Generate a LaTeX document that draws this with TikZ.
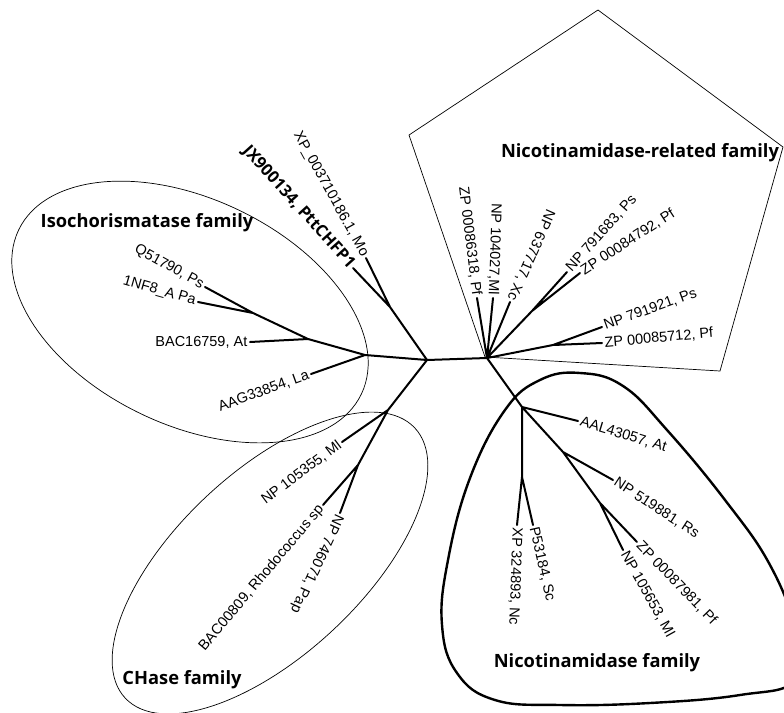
\documentclass[tikz,border=0pt]{standalone}
\usepackage{fontspec}
\setmainfont{Liberation Sans}
\newfontfamily\famfont{Open Sans}
\usetikzlibrary{shapes.geometric}

\begin{document}
\begin{tikzpicture}[x=1pt,y=-1pt,
   branch/.style={line width=2pt,line cap=round,line join=round},
   leaf/.style={font=\fontsize{14.5}{16}\selectfont,inner sep=2.5pt},
   bleaf/.style={font=\famfont\bfseries\fontsize{16.5}{18}\selectfont,inner sep=2pt},
   family/.style={font=\famfont\bfseries\fontsize{18.3}{20}\selectfont},
   outline/.style={draw,line width=0.7pt}]
   \useasboundingbox (0,0) rectangle (784,712);

   % family outlines
   \node[outline,ellipse,minimum width=380pt,minimum height=226pt,rotate=-25.6] (iso_box) at (190,312) {};
   \node[outline,ellipse,minimum width=396pt,minimum height=184pt,rotate=43] (chase_box) at (270,563) {};
   \coordinate (p1) at (598,10);
   \coordinate (p2) at (409,135);
   \coordinate (p3) at (485,357);
   \coordinate (p4) at (720,371);
   \coordinate (p5) at (783,147);
   \draw[outline] (p1) -- (p2) -- (p3) -- (p4) -- (p5) -- cycle;
   \draw[line width=2.4pt] plot[smooth cycle,tension=0.7] coordinates {
      (457,673) (442,625) (448,560) (470,478) (505,410) (540,380) (580,373)
      (623,386) (667,430) (725,500) (770,565) (795,630) (795,680) (740,695)
      (650,703) (560,705) (495,700)};

   \node[family] (iso_lbl) at (147,223) {Isochorismatase family};
   \node[family] (nrel_lbl) at (640,153) {Nicotinamidase-related family};
   \node[family] (chase_lbl) at (182,680) {CHase family};
   \node[family] (nic_lbl) at (597,663) {Nicotinamidase family};

   % inner nodes
   \coordinate (c1) at (427,360);
   \coordinate (c2) at (487,358);
   \coordinate (m1) at (390,307);
   \coordinate (i1) at (365,355);
   \coordinate (i2) at (308,339);
   \coordinate (i3) at (253,313);
   \coordinate (h1) at (388,410);
   \coordinate (h2) at (358,465);
   \coordinate (r1) at (532,311);
   \coordinate (r2) at (553,345);
   \coordinate (n1) at (522,407);
   \coordinate (n2) at (522,477);
   \coordinate (n3) at (563,452);
   \coordinate (n4) at (600,503);

   % tips
   \coordinate (jx900134) at (353,268);
   \coordinate (xp003710186) at (366,258);
   \coordinate (q51790) at (205,287);
   \coordinate (nf8a) at (198,302);
   \coordinate (bac16759) at (250,342);
   \coordinate (aag33854) at (311,374);
   \coordinate (np105355) at (342,442);
   \coordinate (bac00809) at (323,505);
   \coordinate (np746071) at (340,513);
   \coordinate (zp00086318) at (477,298);
   \coordinate (np104027) at (493,298);
   \coordinate (np637717) at (510,302);
   \coordinate (np791683) at (567,272);
   \coordinate (zp00084792) at (580,273);
   \coordinate (np791921) at (602,327);
   \coordinate (zp00085712) at (602,343);
   \coordinate (aal43057) at (578,421);
   \coordinate (np519881) at (613,480);
   \coordinate (zp00087981) at (637,542);
   \coordinate (np105653) at (623,550);
   \coordinate (p53184) at (533,525);
   \coordinate (xp324893) at (517,525);

   \draw[branch] (c1) -- (c2)
      (c1) -- (m1) -- (jx900134)  (m1) -- (xp003710186)
      (c1) -- (i1) -- (i2) -- (i3) -- (q51790)  (i3) -- (nf8a)
      (i2) -- (bac16759)  (i1) -- (aag33854)
      (c1) -- (h1) -- (np105355)  (h1) -- (h2) -- (bac00809)  (h2) -- (np746071)
      (c2) -- (zp00086318)  (c2) -- (np104027)  (c2) -- (np637717)
      (c2) -- (r1) -- (np791683)  (r1) -- (zp00084792)
      (c2) -- (r2) -- (np791921)  (r2) -- (zp00085712)
      (c2) -- (n1) -- (aal43057)  (n1) -- (n2) -- (xp324893)  (n2) -- (p53184)
      (n1) -- (n3) -- (np519881)  (n3) -- (n4) -- (np105653)  (n4) -- (zp00087981);

   % tip labels
   \node[bleaf,anchor=east,rotate=-48] at (jx900134) {JX900134, PttCHFP1};
   \node[leaf,anchor=east,rotate=-61] at (xp003710186) {XP\_003710186.1, Mo};
   \node[leaf,anchor=east,rotate=-29] at (q51790) {Q51790, Ps};
   \node[leaf,anchor=east,rotate=-16] at (nf8a) {1NF8\_A Pa};
   \node[leaf,anchor=east] at (bac16759) {BAC16759, At};
   \node[leaf,anchor=east,rotate=20] at (aag33854) {AAG33854, La};
   \node[leaf,anchor=east,rotate=37] at (np105355) {NP 105355, Ml};
   \node[leaf,anchor=east,rotate=50] at (bac00809) {BAC00809, Rhodococcus sp};
   \node[leaf,anchor=west,rotate=-115] at (np746071) {NP 746071, Pap};
   \node[leaf,anchor=east,rotate=-83] at (zp00086318) {ZP 00086318, Pf};
   \node[leaf,anchor=east,rotate=-92] at (np104027) {NP 104027,Ml};
   \node[leaf,anchor=east,rotate=-114] at (np637717) {NP 637717, Xc};
   \node[leaf,anchor=west,rotate=48] at (np791683) {NP 791683, Ps};
   \node[leaf,anchor=west,rotate=33] at (zp00084792) {ZP 00084792, Pf};
   \node[leaf,anchor=west,rotate=20] at (np791921) {NP 791921, Ps};
   \node[leaf,anchor=west,rotate=5] at (zp00085712) {ZP 00085712, Pf};
   \node[leaf,anchor=west,rotate=-17] at (aal43057) {AAL43057, At};
   \node[leaf,anchor=west,rotate=-33] at (np519881) {NP 519881, Rs};
   \node[leaf,anchor=west,rotate=-46] at (zp00087981) {ZP 00087981, Pf};
   \node[leaf,anchor=west,rotate=-61] at (np105653) {NP 105653, Ml};
   \node[leaf,anchor=west,rotate=-77] at (p53184) {P53184, Sc};
   \node[leaf,anchor=west,rotate=-92] at (xp324893) {XP 324893, Nc};
\end{tikzpicture}
\end{document}
